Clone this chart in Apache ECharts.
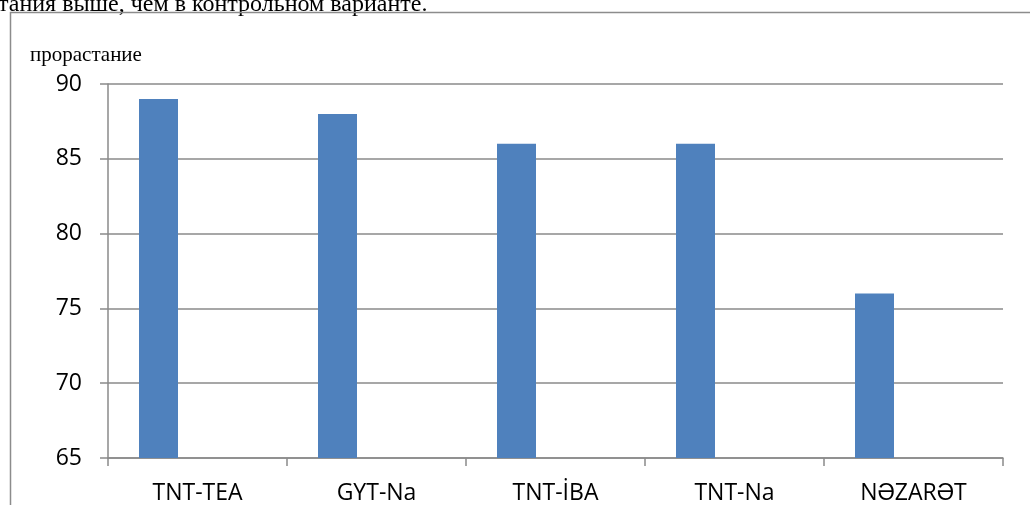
<!DOCTYPE html>
<html>
<head>
<meta charset="utf-8">
<script src="https://cdn.jsdelivr.net/npm/echarts@6/dist/echarts.min.js"></script>
<style>
  html, body { margin: 0; padding: 0; background: #fff; }
  #chart { width: 1030px; height: 505px; }
</style>
</head>
<body>
<div id="chart"></div>
<script>
// Germination by treatment variant
const categories = ['TNT-TEA', 'GYT-Na', 'TNT-İBA', 'TNT-Na', 'NƏZARƏT'];
const germination = [89, 88, 86, 86, 76];
const emptySeries = ['-', '-', '-', '-', '-'];
const yTicks = { min: 65, max: 90, step: 5 };
const axisTitle = 'прорастание';
const captionLine = 'тания выше, чем в контрольном варианте.';

const chart = echarts.init(document.getElementById('chart'), null, { renderer: 'canvas' });
const gray = '#8a8a8a';
const labelFont = '"Open Sans", "Liberation Sans", sans-serif';

chart.setOption({
  animation: false,
  backgroundColor: '#fff',
  grid: { left: 108, right: 27, top: 84, bottom: 45, containLabel: false },
  xAxis: {
    type: 'category',
    data: categories,
    boundaryGap: true,
    axisLine: { lineStyle: { color: gray, width: 1.5 } },
    axisTick: { show: true, length: 8, lineStyle: { color: gray, width: 1.5 } },
    axisLabel: { color: '#000', fontSize: 23, fontFamily: labelFont, margin: 24 }
  },
  yAxis: {
    type: 'value',
    min: yTicks.min,
    max: yTicks.max,
    interval: yTicks.step,
    axisLine: { show: true, lineStyle: { color: gray, width: 1.5 } },
    axisTick: { show: true, inside: false, length: 8, lineStyle: { color: gray, width: 1.5 } },
    axisLabel: { color: '#000', fontSize: 23, fontFamily: labelFont, margin: 26 },
    splitLine: { show: true, lineStyle: { color: gray, width: 1.5 } }
  },
  series: [
    {
      type: 'bar',
      data: germination,
      barWidth: 39,
      barGap: '100%',
      itemStyle: { color: '#4F81BD' }
    },
    {
      type: 'bar',
      data: emptySeries,
      barWidth: 39,
      itemStyle: { color: '#C0504D' }
    }
  ],
  graphic: [
    {
      type: 'rect',
      shape: { x: 10.5, y: 12.5, width: 1040, height: 520 },
      style: { fill: 'none', stroke: '#8c8c8c', lineWidth: 1.5 },
      z: 10
    },
    {
      type: 'text',
      left: 30,
      top: 45,
      style: { text: axisTitle, font: '21px "Liberation Serif", "DejaVu Serif", serif', fill: '#000' }
    },
    {
      type: 'text',
      x: -2,
      y: 17,
      style: {
        text: captionLine,
        font: '24px "Liberation Serif", "DejaVu Serif", serif',
        fill: '#000',
        verticalAlign: 'bottom'
      }
    }
  ]
});
</script>
</body>
</html>
